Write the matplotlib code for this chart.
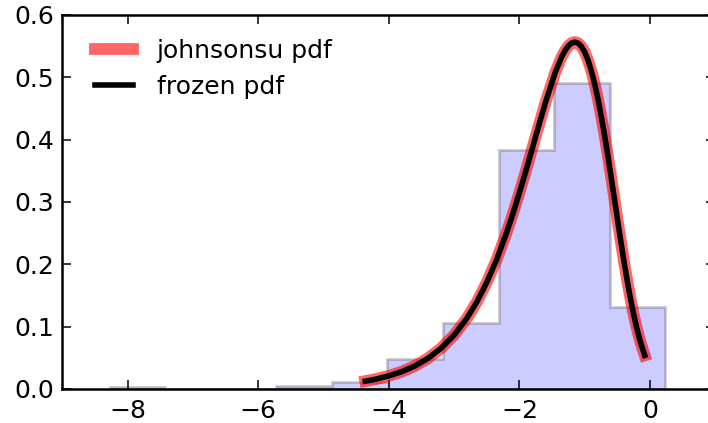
import numpy as np
import matplotlib
matplotlib.use("Agg")
import matplotlib.pyplot as plt

# histogram (density, 10 bins)
bin_edges = [-8.27, -7.42, -6.57, -5.72, -4.87, -4.02, -3.17, -2.32, -1.47, -0.62, 0.23]
bin_heights = [0.0024, 0.0, 0.0, 0.0050, 0.0107, 0.0476, 0.106, 0.383, 0.491, 0.132]

# pdf curve points
pdf_x = [-4.36, -4.2, -4.0, -3.8, -3.6, -3.4, -3.2, -3.0, -2.8, -2.65, -2.5, -2.35,
         -2.2, -2.1, -2.0, -1.9, -1.8, -1.7, -1.6, -1.45, -1.35, -1.3, -1.25, -1.2,
         -1.15, -1.1, -1.05, -1.0, -0.95, -0.9, -0.85, -0.8, -0.75, -0.7, -0.65, -0.6,
         -0.55, -0.5, -0.45, -0.4, -0.35, -0.3, -0.25, -0.2, -0.15, -0.08]
pdf_y = [0.0126, 0.0158, 0.0210, 0.0279, 0.0370, 0.0492, 0.0653, 0.0865, 0.1141, 0.1400,
         0.1709, 0.2073, 0.2496, 0.2810, 0.3146, 0.3501, 0.3869, 0.4239, 0.4599, 0.5082,
         0.5335, 0.5431, 0.5504, 0.5550, 0.5565, 0.5547, 0.5495, 0.5405, 0.5277, 0.5111,
         0.4908, 0.4669, 0.4397, 0.4098, 0.3775, 0.3436, 0.3087, 0.2736, 0.2391, 0.2058,
         0.1745, 0.1456, 0.1195, 0.0965, 0.0766, 0.0539]

x_ticks = [-8, -6, -4, -2, 0]
y_ticks = [0.0, 0.1, 0.2, 0.3, 0.4, 0.5, 0.6]

plt.rcParams['font.family'] = 'DejaVu Sans'
plt.rcParams['font.size'] = 18
plt.rcParams['axes.linewidth'] = 1.8

fig = plt.figure(figsize=(7.08, 4.23), dpi=100)
ax = fig.add_axes([0.088, 0.0804, 0.9223, 0.8842])

ax.hist(bin_edges[:-1], bins=bin_edges, weights=bin_heights, histtype='stepfilled',
        facecolor=(0, 0, 1, 0.2), edgecolor=(0, 0, 0, 0.2), lw=2)
ax.plot(pdf_x, pdf_y, 'r-', lw=8.5, alpha=0.6, label='johnsonsu pdf')
ax.plot(pdf_x, pdf_y, 'k-', lw=4, label='frozen pdf')

ax.set_xlim(-9, 1)
ax.set_ylim(0, 0.6)
ax.set_xticks(x_ticks)
ax.set_xticklabels([f'\u2212{abs(t)}' if t < 0 else str(t) for t in x_ticks])
ax.set_yticks(y_ticks)
ax.set_yticklabels([f'{t:.1f}' for t in y_ticks])
ax.tick_params(direction='in', length=6.5, width=1.1, top=True, right=True)
ax.tick_params(axis='x', pad=7)
ax.tick_params(axis='y', pad=6)

ax.legend(loc='upper left', bbox_to_anchor=(0.016, 0.997), frameon=False,
          handlelength=1.5, handletextpad=0.95, labelspacing=0.5,
          borderaxespad=0.5, fontsize=18)

fig.savefig('out.png', dpi=100)
